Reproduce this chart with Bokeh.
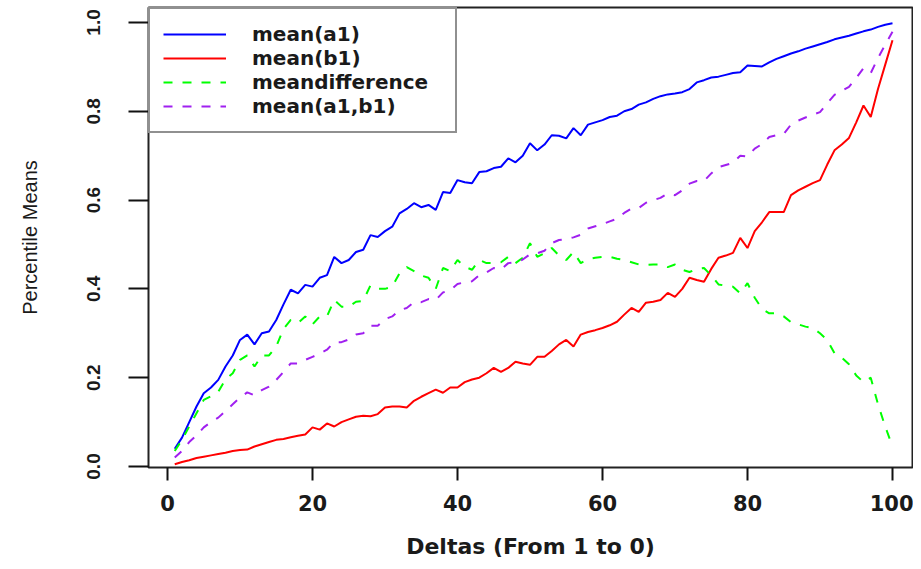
from bokeh.plotting import figure
from bokeh.models import Legend, LegendItem, FixedTicker, PrintfTickFormatter, Range1d
from bokeh.embed import file_html
from bokeh.resources import INLINE

deltas = list(range(1, 101))

mean_a1 = [0.040, 0.065, 0.100, 0.135, 0.165, 0.178, 0.195, 0.225, 0.250, 0.285,
           0.297, 0.275, 0.300, 0.304, 0.330, 0.365, 0.398, 0.390, 0.409, 0.405,
           0.425, 0.431, 0.472, 0.458, 0.465, 0.483, 0.488, 0.521, 0.517, 0.530,
           0.540, 0.570, 0.580, 0.593, 0.584, 0.589, 0.578, 0.618, 0.616, 0.645,
           0.640, 0.638, 0.663, 0.665, 0.672, 0.675, 0.694, 0.685, 0.700, 0.728,
           0.712, 0.725, 0.746, 0.745, 0.739, 0.762, 0.746, 0.770, 0.775, 0.780,
           0.787, 0.790, 0.800, 0.805, 0.815, 0.820, 0.828, 0.834, 0.838, 0.840,
           0.843, 0.850, 0.865, 0.870, 0.876, 0.878, 0.882, 0.886, 0.888, 0.903,
           0.902, 0.901, 0.910, 0.918, 0.924, 0.930, 0.935, 0.941, 0.946, 0.951,
           0.956, 0.962, 0.966, 0.970, 0.975, 0.980, 0.984, 0.990, 0.995, 0.998]

mean_b1 = [0.005, 0.010, 0.014, 0.019, 0.022, 0.025, 0.028, 0.031, 0.035, 0.037,
           0.038, 0.045, 0.050, 0.055, 0.060, 0.062, 0.066, 0.069, 0.072, 0.088,
           0.083, 0.097, 0.090, 0.100, 0.106, 0.112, 0.114, 0.113, 0.118, 0.133,
           0.135, 0.135, 0.133, 0.148, 0.157, 0.165, 0.173, 0.166, 0.178, 0.178,
           0.190, 0.196, 0.200, 0.210, 0.222, 0.213, 0.222, 0.236, 0.232, 0.229,
           0.247, 0.247, 0.260, 0.275, 0.285, 0.270, 0.297, 0.303, 0.307, 0.312,
           0.318, 0.326, 0.342, 0.357, 0.348, 0.369, 0.371, 0.375, 0.391, 0.382,
           0.400, 0.425, 0.420, 0.416, 0.445, 0.470, 0.475, 0.481, 0.515, 0.492,
           0.530, 0.550, 0.573, 0.573, 0.573, 0.611, 0.622, 0.630, 0.638, 0.645,
           0.680, 0.712, 0.725, 0.740, 0.775, 0.813, 0.787, 0.850, 0.905, 0.960]

mean_difference = [0.035, 0.060, 0.090, 0.120, 0.150, 0.158, 0.168, 0.196, 0.210, 0.240,
                   0.250, 0.225, 0.250, 0.250, 0.270, 0.310, 0.330, 0.323, 0.338, 0.320,
                   0.338, 0.338, 0.375, 0.360, 0.360, 0.371, 0.373, 0.408, 0.400, 0.400,
                   0.405, 0.435, 0.449, 0.440, 0.430, 0.425, 0.400, 0.447, 0.440, 0.465,
                   0.450, 0.443, 0.465, 0.458, 0.458, 0.460, 0.472, 0.458, 0.470, 0.503,
                   0.472, 0.480, 0.492, 0.475, 0.465, 0.483, 0.458, 0.467, 0.470, 0.472,
                   0.472, 0.468, 0.465, 0.460, 0.455, 0.454, 0.455, 0.455, 0.449, 0.455,
                   0.443, 0.438, 0.445, 0.447, 0.430, 0.410, 0.407, 0.405, 0.390, 0.413,
                   0.380, 0.355, 0.345, 0.345, 0.338, 0.325, 0.320, 0.315, 0.312, 0.300,
                   0.285, 0.255, 0.245, 0.230, 0.205, 0.190, 0.200, 0.140, 0.090, 0.045]

mean_a1_b1 = [0.020, 0.035, 0.055, 0.070, 0.088, 0.100, 0.110, 0.125, 0.140, 0.155,
              0.167, 0.160, 0.172, 0.180, 0.195, 0.213, 0.232, 0.232, 0.240, 0.247,
              0.254, 0.263, 0.280, 0.280, 0.286, 0.297, 0.300, 0.317, 0.317, 0.332,
              0.338, 0.352, 0.357, 0.370, 0.370, 0.377, 0.375, 0.392, 0.397, 0.411,
              0.415, 0.417, 0.431, 0.437, 0.447, 0.444, 0.458, 0.460, 0.466, 0.478,
              0.480, 0.486, 0.503, 0.510, 0.512, 0.516, 0.522, 0.536, 0.541, 0.546,
              0.552, 0.558, 0.571, 0.581, 0.582, 0.594, 0.600, 0.605, 0.615, 0.611,
              0.622, 0.637, 0.643, 0.643, 0.660, 0.674, 0.679, 0.684, 0.700, 0.698,
              0.716, 0.726, 0.742, 0.746, 0.749, 0.770, 0.779, 0.786, 0.792, 0.798,
              0.818, 0.837, 0.846, 0.855, 0.875, 0.897, 0.886, 0.920, 0.950, 0.979]

series_names = ["mean(a1)", "mean(b1)", "meandifference", "mean(a1,b1)"]
x_ticks = [0, 20, 40, 60, 80, 100]
y_ticks = [0.0, 0.2, 0.4, 0.6, 0.8, 1.0]

p = figure(width=913, height=561, output_backend="svg", toolbar_location=None,
           x_range=Range1d(-2.62, 102.76), y_range=Range1d(-0.0023, 1.0337),
           min_border_left=148, min_border_right=1, min_border_top=7, min_border_bottom=93)
p.background_fill_color = "white"
p.border_fill_color = "white"
p.outline_line_color = "#222222"
p.outline_line_width = 2
p.xgrid.visible = False
p.ygrid.visible = False

r1 = p.line(deltas, mean_a1, line_color="#0000FF", line_width=2)
r2 = p.line(deltas, mean_b1, line_color="#FF0000", line_width=2)
r3 = p.line(deltas, mean_difference, line_color="#00FF00", line_width=2, line_dash="9 10")
r4 = p.line(deltas, mean_a1_b1, line_color="#A020F0", line_width=2, line_dash="9 10")

legend = Legend(items=[LegendItem(label=n, renderers=[r]) for n, r in
                       zip(series_names, [r1, r2, r3, r4])],
                location="top_left", margin=0, padding=13, spacing=0,
                glyph_width=63, glyph_height=24, label_height=24, label_width=190,
                label_standoff=26, border_line_color="#222222", border_line_width=2,
                label_text_font="DejaVu Sans", label_text_font_size="20px",
                label_text_font_style="bold",
                label_text_color="#1a1a1a", background_fill_alpha=1.0)
p.add_layout(legend)

# axes
p.xaxis.ticker = FixedTicker(ticks=x_ticks)
p.yaxis.ticker = FixedTicker(ticks=y_ticks)
p.yaxis.formatter = PrintfTickFormatter(format="%.1f")
for ax in (p.xaxis[0], p.yaxis[0]):
    ax.axis_line_color = None
    ax.major_tick_line_color = "#111111"
    ax.major_tick_line_width = 2
    ax.major_tick_in = 0
    ax.minor_tick_line_color = None
    ax.major_label_text_color = "#1a1a1a"
    ax.axis_label_text_color = "#1a1a1a"

p.xaxis.major_tick_out = 13
p.xaxis.major_label_standoff = 14
p.xaxis.major_label_text_font = "DejaVu Sans"
p.xaxis.major_label_text_font_style = "bold"
p.xaxis.major_label_text_font_size = "21px"
p.xaxis.axis_label = "Deltas (From 1 to 0)"
p.xaxis.axis_label_text_font = "DejaVu Sans"
p.xaxis.axis_label_text_font_style = "bold"
p.xaxis.axis_label_text_font_size = "22px"
p.xaxis.axis_label_standoff = 20

p.yaxis.major_tick_out = 20
p.yaxis.major_label_standoff = 28
p.yaxis.major_label_orientation = "vertical"
p.yaxis.major_label_text_font = "Liberation Sans"
p.yaxis.major_label_text_font_style = "bold"
p.yaxis.major_label_text_font_size = "19px"
p.yaxis.axis_label = "Percentile Means"
p.yaxis.axis_label_text_font = "Liberation Sans"
p.yaxis.axis_label_text_font_style = "normal"
p.yaxis.axis_label_text_font_size = "20px"
p.yaxis.axis_label_standoff = 44

open("out.html", "w").write(file_html(p, INLINE))
